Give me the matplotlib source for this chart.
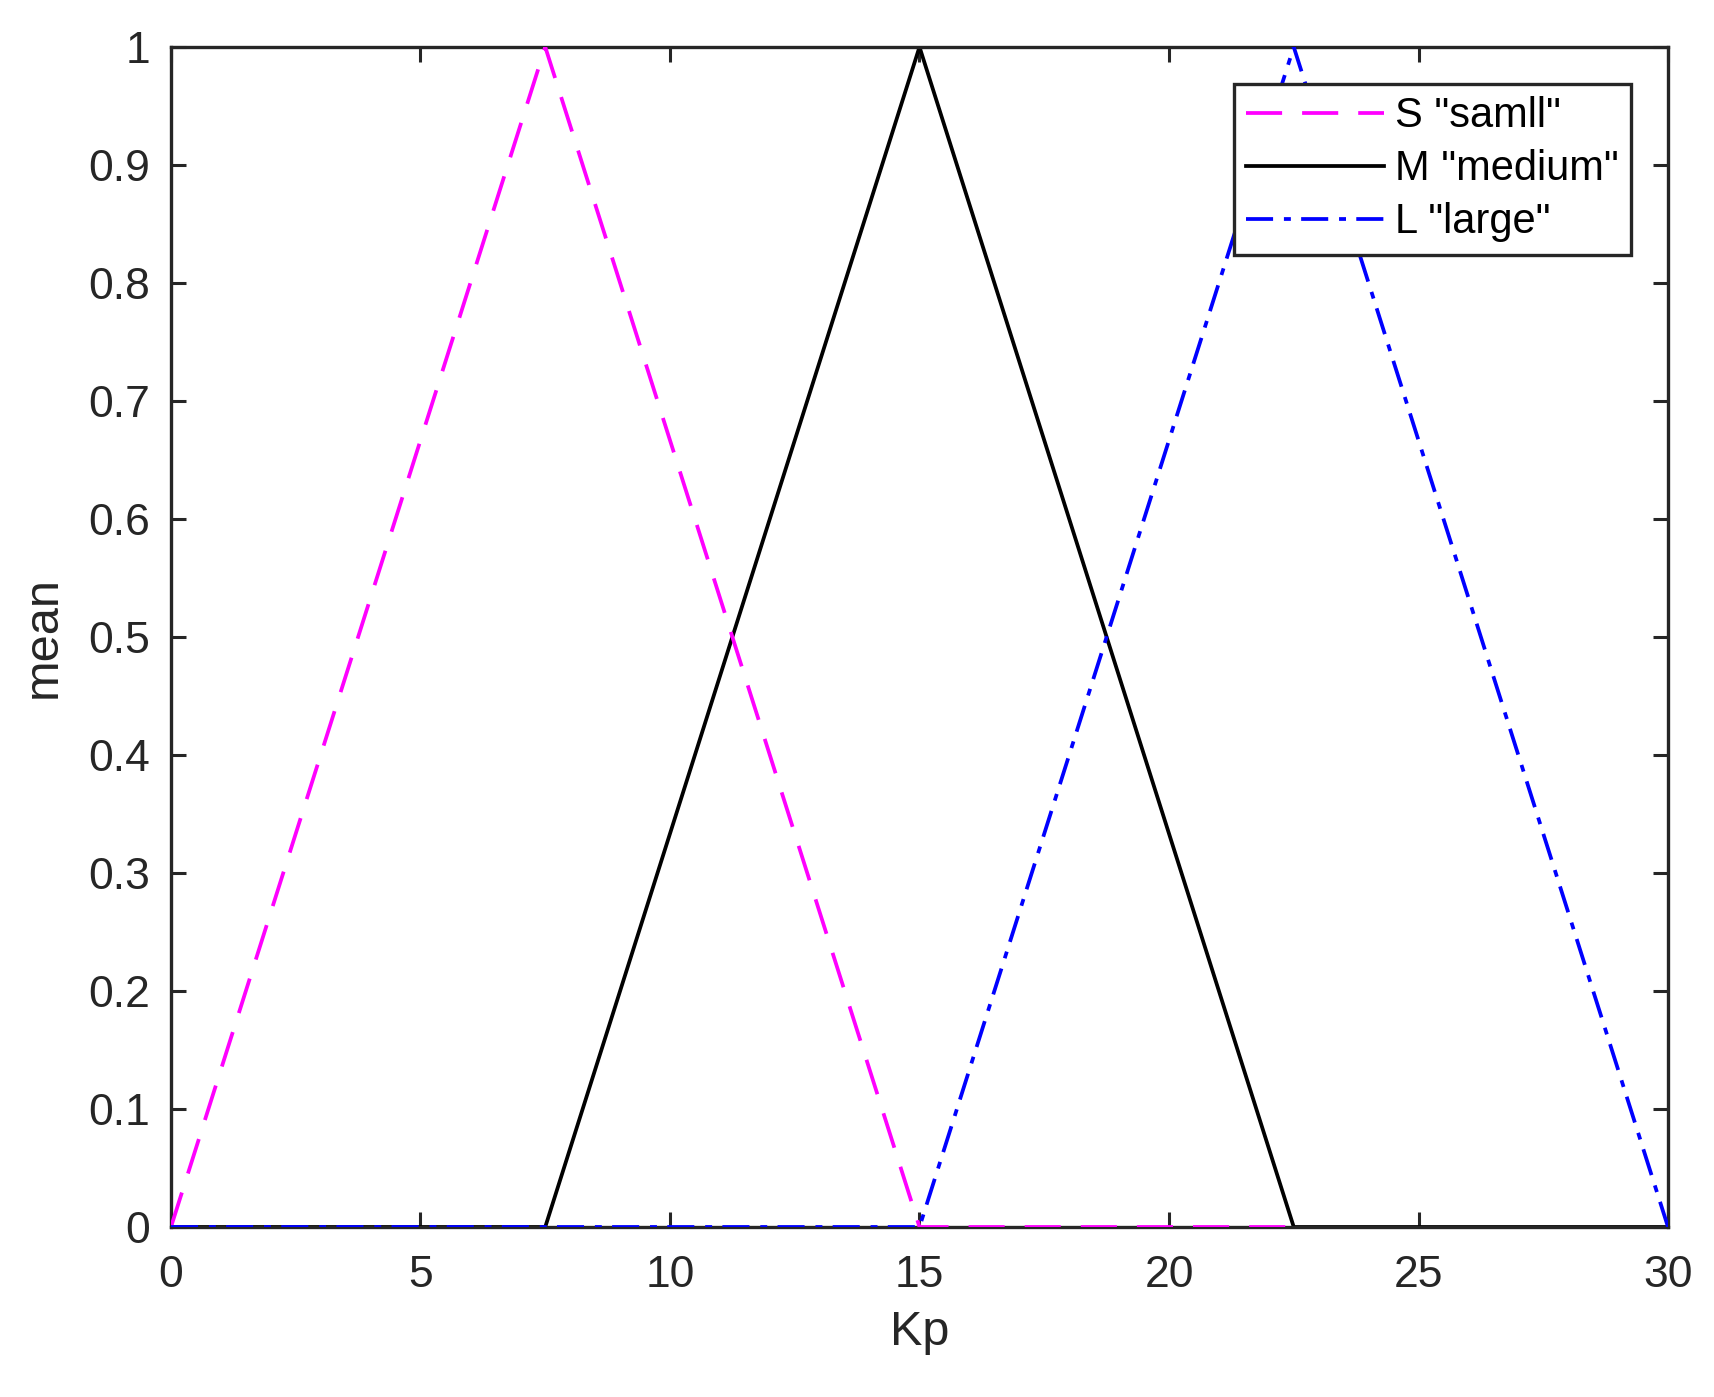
import numpy as np
import matplotlib.pyplot as plt

plt.rcParams['font.family'] = ['Liberation Sans', 'DejaVu Sans']
plt.rcParams['lines.scale_dashes'] = False

# membership functions
x_s = [0, 7.5, 15, 22.5]
y_s = [0, 1, 0, 0]
x_m = [0, 7.5, 15, 22.5, 30]
y_m = [0, 0, 1, 0, 0]
x_l = [0, 15, 22.5, 30]
y_l = [0, 0, 1, 0]

labels = ['S "samll"', 'M "medium"', 'L "large"']
xticks = [0, 5, 10, 15, 20, 25, 30]
yticks = np.round(np.arange(0, 1.01, 0.1), 1)

fig = plt.figure(figsize=(17.15, 13.97), dpi=100)
ax = fig.add_axes([0.0997, 0.1217, 0.8729, 0.8447])

lw = 2.7
axc = '#262626'
hm, = ax.plot(x_m, y_m, color='k', lw=lw, zorder=2)
hs, = ax.plot(x_s, y_s, color='#FF00FF', lw=lw, dashes=(26, 14.4), zorder=3)
hl, = ax.plot(x_l, y_l, color='#0000FF', lw=lw, dashes=(19.5, 7.8, 5, 7.4), zorder=3)

ax.set_xlim(0, 30)
ax.set_ylim(0, 1)
ax.set_xticks(xticks)
ax.set_xticklabels([str(v) for v in xticks])
ax.set_yticks(yticks)
ax.set_yticklabels(['0'] + ['%.1f' % v for v in yticks[1:-1]] + ['1'])
ax.tick_params(direction='in', length=11, width=2.2, colors=axc, labelsize=32,
               top=True, right=True, pad=15)
ax.tick_params(axis='x', pad=20)
for sp in ax.spines.values():
    sp.set_linewidth(2.4)
    sp.set_color(axc)

ax.set_xlabel('Kp', fontsize=35, color=axc, labelpad=10)
ax.set_ylabel('mean', fontsize=35, color=axc, labelpad=16)

leg = ax.legend([hs, hm, hl], labels, loc='upper right',
                bbox_to_anchor=(0.9753, 0.9686), fontsize=30, frameon=True,
                fancybox=False, handlelength=3.3, handletextpad=0.27,
                borderpad=0.3, labelspacing=0.31, borderaxespad=0)
leg.get_frame().set_edgecolor(axc)
leg.get_frame().set_linewidth(2.4)
leg.get_frame().set_alpha(1)

fig.savefig('out.png', dpi=100)
